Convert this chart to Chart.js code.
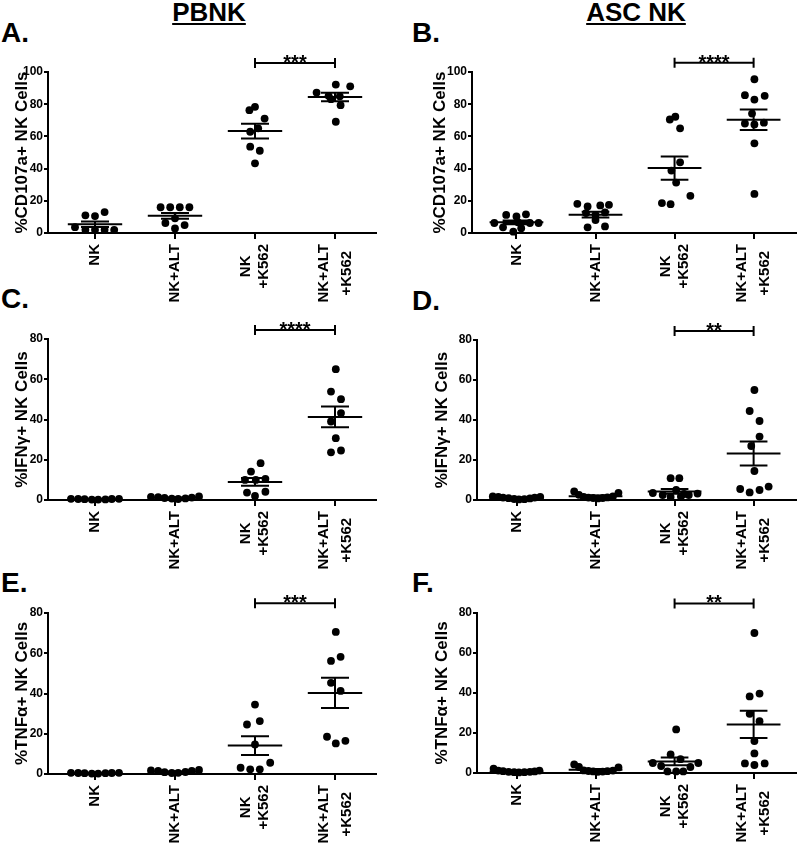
<!DOCTYPE html>
<html lang="en">
<head>
<meta charset="UTF-8">
<title>NK cell CD107a, IFNγ and TNFα</title>
<style>
  body {
    margin: 0;
    width: 800px;
    height: 853px;
    position: relative;
    overflow: hidden;
    background: #fff;
    font-family: "Liberation Sans", Arial, sans-serif;
  }
  .panel { position: absolute; }
  .head {
    position: absolute;
    top: -1px;
    font-size: 26px;
    line-height: 26px;
    font-weight: bold;
    text-decoration: underline;
    transform: translateX(-50%);
    white-space: nowrap;
  }
  .letter {
    position: absolute;
    font-size: 28px;
    line-height: 28px;
    font-weight: bold;
  }
</style>
</head>
<body>
<div class="head" style="left:209px">PBNK</div>
<div class="head" style="left:636px">ASC NK</div>
<div class="letter" style="left:1px;top:19px">A.</div>
<div class="letter" style="left:412px;top:19px">B.</div>
<div class="letter" style="left:1px;top:285px">C.</div>
<div class="letter" style="left:412px;top:287px">D.</div>
<div class="letter" style="left:1px;top:569px">E.</div>
<div class="letter" style="left:412px;top:569px">F.</div>

<script src="https://cdn.jsdelivr.net/npm/chart.js"></script>
<script>
    // x categories (multi-line labels)
    const groups = [['NK'], ['NK+ALT'], ['NK', '+K562'], ['NK+ALT', '+K562']];

    // A. PBNK CD107a
    const pbCd107Values = [
        [3.6, 11, 10.5, 13, 2, 2, 2, 2],
        [16, 16, 16, 16, 6.2, 9.1, 4.9, 2.8],
        [76.3, 78.4, 71.1, 62.9, 65, 53.6, 51.1, 43.3],
        [87.2, 92.2, 91.1, 85.2, 84.9, 83.1, 79.4, 69.1]
    ];
    const pbCd107Jitter = [
        [-0.25, -0.12, 0, 0.12, -0.12, 0, 0.12, 0.24],
        [-0.18, -0.06, 0.06, 0.18, -0.12, 0, 0.12, 0],
        [-0.07, 0, 0.12, -0.06, 0.04, -0.06, 0.06, 0],
        [-0.23, 0.01, 0.19, -0.08, 0.06, -0.05, 0.07, 0.01]
    ];
    const pbCd107Mean = [5.5, 10.7, 63.3, 84.5];
    const pbCd107Sem = [1.7, 1.8, 4.6, 2.6];

    // B. ASC NK CD107a
    const ascCd107Values = [
        [11.2, 10.3, 11.6, 6.2, 6.6, 6.2, 6.2, 3.5, 3, 0.8],
        [18.1, 16.5, 17.1, 17.5, 12.4, 11.3, 12.8, 8, 3.5, 4.1],
        [70.5, 72.2, 65, 43.9, 38.8, 31.3, 18.6, 17.9, 23.1],
        [95.5, 85.6, 82.9, 85.2, 74.2, 68, 67.4, 68.5, 55.7, 24.3]
    ];
    const ascCd107Jitter = [
        [-0.13, 0, 0.12, -0.28, 0.02, 0.17, 0.28, -0.17, 0.06, -0.04],
        [-0.23, -0.1, 0.06, 0.17, -0.12, 0, 0.12, 0, -0.1, 0.12],
        [-0.06, 0.01, 0.07, 0.07, -0.04, 0.02, -0.16, -0.05, 0.2],
        [0.01, -0.11, 0.01, 0.14, -0.02, -0.11, 0.01, 0.13, 0.01, 0.01]
    ];
    const ascCd107Mean = [6.6, 11.4, 40.3, 70.3];
    const ascCd107Sem = [1.2, 1.8, 7.2, 6.4];

    // C. PBNK IFNg
    const pbIfnValues = [
        [0.6, 0.5, 0.4, 0.2, 0.2, 0.3, 0.5, 0.6],
        [1.6, 1.4, 1.0, 0.7, 0.5, 0.8, 1.2, 1.8],
        [18.3, 14.1, 10, 10, 10.5, 3.7, 2, 4.1],
        [65, 53.9, 50.1, 39, 43.2, 30.7, 23.7, 24.6]
    ];
    const pbIfnJitter = [
        [-0.3, -0.21, -0.13, -0.04, 0.04, 0.13, 0.21, 0.3],
        [-0.3, -0.21, -0.13, -0.04, 0.04, 0.13, 0.21, 0.3],
        [0.07, -0.05, -0.125, 0.01, 0.13, -0.1, 0, 0.13],
        [0.01, -0.05, 0.075, -0.05, 0.075, 0.01, -0.05, 0.075]
    ];
    const pbIfnMean = [0.4, 1.1, 9.0, 41.3];
    const pbIfnSem = [0.1, 0.2, 1.9, 5.1];

    // D. ASC NK IFNg
    const ascIfnValues = [
        [1.8, 1.5, 1.2, 0.9, 0.5, 0.3, 0.4, 0.8, 1.2, 1.5],
        [4.3, 2.6, 1.5, 1.2, 1.0, 0.8, 1.0, 1.3, 1.8, 3.6],
        [10.9, 10.9, 3.5, 5, 2.5, 1.5, 1.8, 2.5, 3.2, 3],
        [55, 44.5, 39.5, 31.7, 27, 14.5, 5.5, 3.8, 5, 6.7]
    ];
    const ascIfnJitter = [
        [-0.3, -0.23, -0.17, -0.1, -0.03, 0.03, 0.1, 0.17, 0.23, 0.3],
        [-0.27, -0.21, -0.15, -0.09, -0.03, 0.03, 0.09, 0.15, 0.22, 0.29],
        [-0.05, 0.06, -0.275, 0.02, -0.15, -0.05, 0.08, 0.18, 0.29, 0.12],
        [0.01, -0.05, 0.075, 0.075, -0.03, 0.01, -0.17, -0.05, 0.075, 0.19]
    ];
    const ascIfnMean = [1.0, 1.9, 4.3, 23.3];
    const ascIfnSem = [0.2, 0.4, 1.2, 6.0];

    // E. PBNK TNFa
    const pbTnfValues = [
        [0.6, 0.5, 0.4, 0.2, 0.2, 0.4, 0.5, 0.6],
        [1.8, 1.6, 0.9, 0.5, 0.6, 1.0, 1.5, 2.0],
        [34.5, 24.6, 26.3, 14.7, 3.1, 2.3, 2.3, 5.6],
        [70.6, 56.2, 58.2, 45.3, 41.3, 18.5, 15.2, 16.5]
    ];
    const pbTnfJitter = [
        [-0.3, -0.21, -0.13, -0.04, 0.04, 0.13, 0.21, 0.3],
        [-0.3, -0.21, -0.13, -0.04, 0.04, 0.13, 0.21, 0.3],
        [0, -0.1, 0.06, 0, -0.18, -0.06, 0.06, 0.19],
        [0.01, -0.05, 0.07, -0.05, 0.07, -0.1, 0.01, 0.13]
    ];
    const pbTnfMean = [0.4, 1.1, 14.1, 40.3];
    const pbTnfSem = [0.1, 0.2, 4.7, 7.5];

    // F. ASC NK TNFa
    const ascTnfValues = [
        [2.2, 1.2, 0.9, 0.6, 0.4, 0.3, 0.4, 0.6, 0.8, 1.2],
        [4.3, 3.0, 1.3, 1.0, 0.8, 0.6, 0.7, 0.9, 1.2, 2.8],
        [21.8, 9.3, 5, 3.5, 3, 5, 0.8, 0.8, 0.8, 6.9],
        [70, 38.3, 39.7, 29.6, 25.9, 16, 9.8, 4.8, 4, 4.8]
    ];
    const ascTnfJitter = [
        [-0.29, -0.23, -0.17, -0.1, -0.03, 0.03, 0.1, 0.17, 0.23, 0.29],
        [-0.27, -0.21, -0.15, -0.09, -0.03, 0.03, 0.09, 0.15, 0.22, 0.29],
        [0.02, -0.05, -0.275, -0.17, 0.2, 0.3, -0.09, 0.02, 0.11, 0.075],
        [0.01, -0.05, 0.075, -0.05, 0.075, 0.01, 0.01, -0.11, 0.01, 0.14]
    ];
    const ascTnfMean = [0.8, 1.6, 5.8, 24.3];
    const ascTnfSem = [0.2, 0.4, 1.9, 6.8];

    // significance between NK+K562 and NK+ALT+K562
    const sigStars = ['***', '****', '****', '**', '***', '**'];
    const sigLevel = [105.6, 105.8, 84.5, 84.5, 84.8, 84.8];

    const FONT = '"Liberation Sans", Arial, sans-serif';
    Chart.defaults.font.family = FONT;
    Chart.defaults.color = '#000';

    // panel layout: canvas left, plot area [left, top, right, bottom], pixel of first tick, y title centre
    const panels = [
        { left: 0,   area: [48, 72, 376, 233],  firstTick: 95,  titleX: 22,  yMax: 100, yTitle: '%CD107a+ NK Cells',
          values: pbCd107Values, jitter: pbCd107Jitter, mean: pbCd107Mean, sem: pbCd107Sem },
        { left: 400, area: [472, 72, 800, 233], firstTick: 517, titleX: 440, yMax: 100, yTitle: '%CD107a+ NK Cells',
          values: ascCd107Values, jitter: ascCd107Jitter, mean: ascCd107Mean, sem: ascCd107Sem },
        { left: 0,   area: [48, 339, 376, 500], firstTick: 95,  titleX: 22,  yMax: 80, yTitle: '%IFNγ+ NK Cells',
          values: pbIfnValues, jitter: pbIfnJitter, mean: pbIfnMean, sem: pbIfnSem },
        { left: 400, area: [477, 340, 800, 500], firstTick: 517, titleX: 442, yMax: 80, yTitle: '%IFNγ+ NK Cells',
          values: ascIfnValues, jitter: ascIfnJitter, mean: ascIfnMean, sem: ascIfnSem },
        { left: 0,   area: [48, 613, 376, 774], firstTick: 95,  titleX: 22,  yMax: 80, yTitle: '%TNFα+ NK Cells',
          values: pbTnfValues, jitter: pbTnfJitter, mean: pbTnfMean, sem: pbTnfSem },
        { left: 400, area: [477, 613, 800, 773], firstTick: 517, titleX: 442, yMax: 80, yTitle: '%TNFα+ NK Cells',
          values: ascTnfValues, jitter: ascTnfJitter, mean: ascTnfMean, sem: ascTnfSem }
    ];

    // mean line with SEM whiskers
    function meanSemPlugin(p) {
        return {
            id: 'meanSem',
            afterDatasetsDraw(chart) {
                const { ctx, scales: { x, y } } = chart;
                ctx.save();
                ctx.strokeStyle = '#000';
                ctx.lineWidth = 2;
                p.mean.forEach((m, g) => {
                    const c = g + 1;
                    const mid = y.getPixelForValue(m);
                    const lo = y.getPixelForValue(m - p.sem[g]);
                    const hi = y.getPixelForValue(m + p.sem[g]);
                    ctx.beginPath();
                    ctx.moveTo(x.getPixelForValue(c - 0.34), mid);
                    ctx.lineTo(x.getPixelForValue(c + 0.34), mid);
                    ctx.moveTo(x.getPixelForValue(c - 0.175), lo);
                    ctx.lineTo(x.getPixelForValue(c + 0.175), lo);
                    ctx.moveTo(x.getPixelForValue(c - 0.175), hi);
                    ctx.lineTo(x.getPixelForValue(c + 0.175), hi);
                    ctx.moveTo(x.getPixelForValue(c), lo);
                    ctx.lineTo(x.getPixelForValue(c), hi);
                    ctx.stroke();
                });
                ctx.restore();
            }
        };
    }

    // bracket with stars over groups 3 and 4
    function sigPlugin(i) {
        return {
            id: 'sig',
            afterDraw(chart) {
                const { ctx, scales: { x, y } } = chart;
                const x1 = x.getPixelForValue(3), x2 = x.getPixelForValue(4);
                const yy = y.getPixelForValue(sigLevel[i]);
                ctx.save();
                ctx.strokeStyle = '#000';
                ctx.lineWidth = 2;
                ctx.beginPath();
                ctx.moveTo(x1, yy); ctx.lineTo(x2, yy);
                ctx.moveTo(x1, yy - 5); ctx.lineTo(x1, yy + 5);
                ctx.moveTo(x2, yy - 5); ctx.lineTo(x2, yy + 5);
                ctx.stroke();
                ctx.fillStyle = '#000';
                ctx.font = 'bold 20px ' + FONT;
                ctx.textAlign = 'center';
                ctx.textBaseline = 'alphabetic';
                ctx.fillText(sigStars[i], (x1 + x2) / 2, yy + 6);
                ctx.restore();
            }
        };
    }

    // rotated multi-line category labels, lines centred on each other
    const lineGap = [0, 0, 18, 23];
    const xLabelPlugin = {
        id: 'xLabels',
        afterDraw(chart) {
            const { ctx, scales: { x }, chartArea } = chart;
            ctx.save();
            ctx.fillStyle = '#000';
            ctx.font = 'bold 15px ' + FONT;
            ctx.textAlign = 'center';
            ctx.textBaseline = 'middle';
            groups.forEach((lines, g) => {
                const px = x.getPixelForValue(g + 1);
                const maxW = Math.max(...lines.map(t => ctx.measureText(t).width));
                const cy = chartArea.bottom + 11 + maxW / 2;
                lines.forEach((t, j) => {
                    const lx = px + (j - (lines.length - 1) / 2) * lineGap[g];
                    ctx.save();
                    ctx.translate(lx, cy);
                    ctx.rotate(-Math.PI / 2);
                    ctx.fillText(t, 0, 0);
                    ctx.restore();
                });
            });
            ctx.restore();
        }
    };

    panels.forEach((p, i) => {
        const [aL, aT, aR, aB] = p.area;
        const cTop = aT - 40;
        const cW = 400;
        const cH = (aB - aT) + 40 + 80;
        const wrap = document.createElement('div');
        wrap.className = 'panel';
        wrap.style.left = p.left + 'px';
        wrap.style.top = cTop + 'px';
        const canvas = document.createElement('canvas');
        canvas.width = cW;
        canvas.height = cH;
        wrap.appendChild(canvas);
        document.body.appendChild(wrap);

        const unit = 80;
        const xMin = 1 - (p.firstTick - aL) / unit;
        const xMax = xMin + (aR - aL) / unit;
        const yW = aL - p.left;
        const xH = cH - (aB - cTop);
        const titleLine = 17 * 1.2;

        const points = [];
        p.values.forEach((vals, g) => {
            vals.forEach((v, k) => points.push({ x: g + 1 + p.jitter[g][k], y: v }));
        });

        new Chart(canvas, {
            type: 'scatter',
            data: {
                datasets: [{
                    data: points,
                    backgroundColor: '#000',
                    borderWidth: 0,
                    pointRadius: 3.9,
                    pointHoverRadius: 3.9,
                    clip: false
                }]
            },
            options: {
                responsive: false,
                animation: false,
                events: [],
                layout: { padding: { top: aT - cTop, right: p.left + cW - aR, left: 0, bottom: 0 } },
                plugins: { legend: { display: false }, tooltip: { enabled: false } },
                scales: {
                    x: {
                        type: 'linear',
                        min: xMin,
                        max: xMax,
                        ticks: { display: false },
                        afterBuildTicks: s => { s.ticks = groups.map((g, k) => ({ value: k + 1 })); },
                        afterFit: s => { s.height = xH; },
                        grid: { drawOnChartArea: false, drawTicks: true, tickLength: 6, color: '#000', lineWidth: 2 },
                        border: { color: '#000', width: 2 }
                    },
                    y: {
                        min: 0,
                        max: p.yMax,
                        ticks: { stepSize: 20, color: '#000', padding: 1, font: { size: 12, weight: 'bold' } },
                        afterFit: s => { s.width = yW; },
                        grid: { drawOnChartArea: false, drawTicks: true, tickLength: 4, color: '#000', lineWidth: 2 },
                        border: { color: '#000', width: 2 },
                        title: {
                            display: true,
                            text: p.yTitle,
                            color: '#000',
                            font: { size: 17, weight: 'bold' },
                            padding: { top: p.titleX - p.left - titleLine / 2, bottom: 0 }
                        }
                    }
                }
            },
            plugins: [meanSemPlugin(p), sigPlugin(i), xLabelPlugin]
        });
    });
</script>
</body>
</html>
